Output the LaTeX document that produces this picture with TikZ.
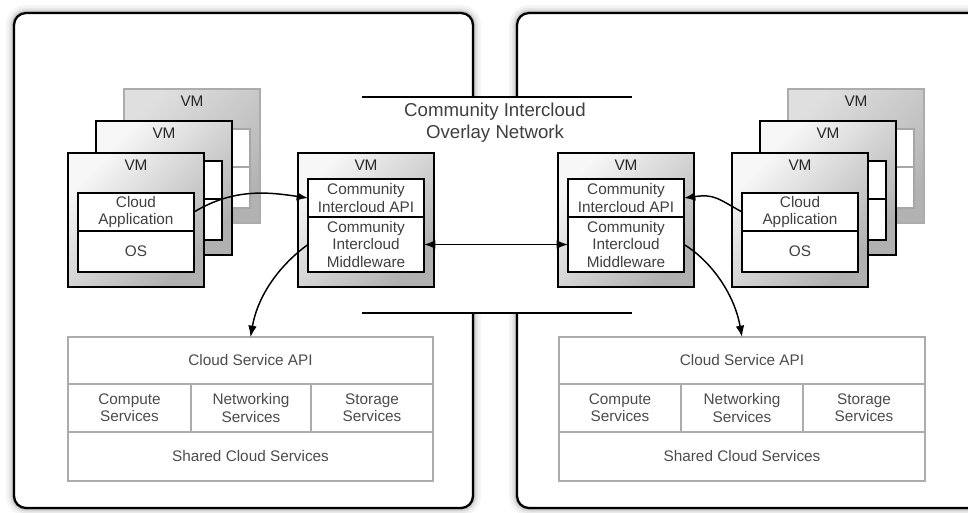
\documentclass[tikz,border=0pt]{standalone}
\usepackage{fontspec}
\setmainfont{Liberation Sans}
\usetikzlibrary{arrows.meta}

\newcommand\txtfont{\fontsize{11.5}{13}\selectfont}
\newcommand\netfont{\fontsize{14}{16}\selectfont}

\begin{document}
\begin{tikzpicture}[x=0.75pt,y=-0.75pt,
  mw/.style={minimum width=#1*0.75pt},
  mh/.style={minimum height=#1*0.75pt},
  vmframe/.style={draw=black, line width=1.1pt, top color=gray!6, bottom color=gray!62, shading angle=45, inner sep=0pt, outer sep=0pt, anchor=north west, mw=136, mh=134},
  backframe/.style={vmframe, draw=gray!65, top color=gray!25, bottom color=gray!60, shading angle=45},
  vmlabel/.style={font=\txtfont, text=black!85, inner sep=0pt},
  cell/.style={draw=black, line width=0.9pt, fill=white, inner sep=0pt, outer sep=0pt, anchor=north west, align=center, font=\txtfont, text=black!75, mw=116},
  backcell/.style={cell, draw=gray!70},
  svc/.style={draw=gray!65, line width=1pt, fill=white, inner sep=0pt, outer sep=0pt, anchor=north west, align=center, font=\txtfont, text=black!70},
  conn/.style={line width=1.1pt, -{Latex[length=8.5pt,width=6.5pt]}},
  dconn/.style={line width=1.1pt, {Latex[length=8.5pt,width=6.5pt]}-{Latex[length=8.5pt,width=6.5pt]}},
  framebox/.style={line width=1.7pt, rounded corners=9pt},
  netline/.style={line width=1pt},
]
\useasboundingbox (0,0) rectangle (968,512);
\clip (0,0) rectangle (968,512);
\fill[white] (0,0) rectangle (968,512);

% soft glow around the two clouds
\foreach \w/\o in {12/0.04,8/0.05,5/0.07,3/0.1}{
  \draw[line width=\w pt, black, opacity=\o, rounded corners=9pt]
    (473,97) -- (473,13) -- (14,13) -- (14,508) -- (473,508) -- (473,313);
  \draw[line width=\w pt, black, opacity=\o, rounded corners=9pt]
    (517,97) -- (517,13) -- (1000,13) -- (1000,508) -- (517,508) -- (517,313);
}
\fill[white, rounded corners=9pt] (14,13) rectangle (473,508);
\fill[white, rounded corners=9pt] (517,13) rectangle (1000,508);

% cloud outlines
\draw[framebox] (473,97) -- (473,13) -- (14,13) -- (14,508) -- (473,508) -- (473,313);
\draw[framebox] (517,97) -- (517,13) -- (1000,13) -- (1000,508) -- (517,508) -- (517,313);

% overlay network
\draw[netline] (362,97) -- (632,97);
\draw[netline] (362,313) -- (632,313);
\node[font=\netfont, text=black!75, align=center, inner sep=0pt] (net) at (495,122.5) {Community Intercloud\\Overlay Network};

% ---------- left VM stack ----------
\node[backframe] (lvm2) at (124,89) {};
\node[vmlabel] (lvm2l) at (192,101) {VM};
\node[backcell, mh=38] (lvm2a) at (134,129) {};
\node[backcell, mh=41] (lvm2b) at (134,167) {};

\node[vmframe] (lvm1) at (96,121) {};
\node[vmlabel] (lvm1l) at (164,133) {VM};
\node[cell, mh=38] (lvm1a) at (106,161) {};
\node[cell, mh=41] (lvm1b) at (106,199) {};

\node[vmframe] (lvm0) at (68,153) {};
\node[vmlabel] (lvm0l) at (136,165) {VM};
\node[cell, mh=38] (lapp) at (78,193) {Cloud\\Application};
\node[cell, mh=41] (los) at (78,231) {OS};

% ---------- right VM stack ----------
\node[backframe] (rvm2) at (788,89) {};
\node[vmlabel] (rvm2l) at (856,101) {VM};
\node[backcell, mh=38] (rvm2a) at (798,129) {};
\node[backcell, mh=41] (rvm2b) at (798,167) {};

\node[vmframe] (rvm1) at (760,121) {};
\node[vmlabel] (rvm1l) at (828,133) {VM};
\node[cell, mh=38] (rvm1a) at (770,161) {};
\node[cell, mh=41] (rvm1b) at (770,199) {};

\node[vmframe] (rvm0) at (732,153) {};
\node[vmlabel] (rvm0l) at (800,165) {VM};
\node[cell, mh=38] (rapp) at (742,193) {Cloud\\Application};
\node[cell, mh=41] (ros) at (742,231) {OS};

% ---------- intercloud VMs ----------
\node[vmframe] (lic) at (298,153) {};
\node[vmlabel] (licl) at (366,165) {VM};
\node[cell, mh=38] (lapi) at (308,179) {Community\\Intercloud API};
\node[cell, mh=55] (lmw) at (308,217) {Community\\Intercloud\\Middleware};

\node[vmframe] (ric) at (558,153) {};
\node[vmlabel] (ricl) at (626,165) {VM};
\node[cell, mh=38] (rapi) at (568,179) {Community\\Intercloud API};
\node[cell, mh=55] (rmw) at (568,217) {Community\\Intercloud\\Middleware};

% ---------- cloud services ----------
\node[svc, mw=365, mh=47] (lsapi) at (68,337) {Cloud Service API};
\node[svc, mw=123, mh=48] (lcomp) at (68,384) {Compute\\Services};
\node[svc, mw=120, mh=48] (lnet) at (191,384) {Networking\\Services};
\node[svc, mw=122, mh=48] (lstor) at (311,384) {Storage\\Services};
\node[svc, mw=365, mh=49] (lshared) at (68,432) {Shared Cloud Services};

\node[svc, mw=366, mh=47] (rsapi) at (559,337) {Cloud Service API};
\node[svc, mw=122, mh=48] (rcomp) at (559,384) {Compute\\Services};
\node[svc, mw=122, mh=48] (rnet) at (681,384) {Networking\\Services};
\node[svc, mw=122, mh=48] (rstor) at (803,384) {Storage\\Services};
\node[svc, mw=366, mh=49] (rshared) at (559,432) {Shared Cloud Services};

% ---------- connectors ----------
\draw[conn] (lapp.east) .. controls +(40,-24) and +(-40,-6) .. (lapi.west);
\draw[conn] (lmw.west) .. controls +(-25,18) and +(8,-45) .. (lsapi.north);
\draw[dconn] (lmw.east) -- (rmw.west);
\draw[conn] (rapp.west) .. controls +(-25,-14) and +(30,-4) .. (rapi.east);
\draw[conn] (rmw.east) .. controls +(25,15) and +(-8,-45) .. (rsapi.north);
\end{tikzpicture}
\end{document}
